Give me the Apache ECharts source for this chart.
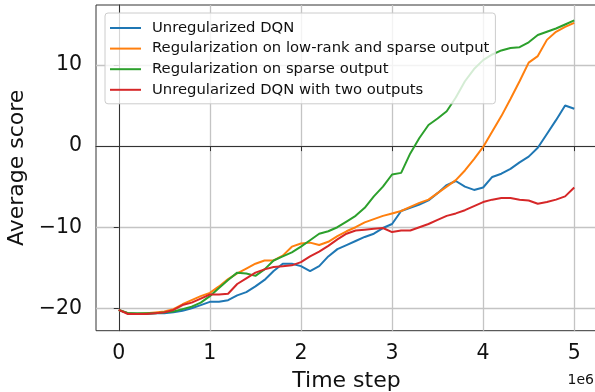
<!DOCTYPE html>
<html>
<head>
<meta charset="utf-8">
<script src="https://cdn.jsdelivr.net/npm/echarts@6/dist/echarts.min.js"></script>
<style>
html,body{margin:0;padding:0;background:#fff;}
#chart{width:595px;height:392px;}
</style>
</head>
<body>
<div id="chart"></div>
<script>
// Time steps in millions (axis carries the 1e6 offset)
var timeStepsM = [0.0,0.1,0.2,0.3,0.4,0.5,0.6,0.7,0.8,0.9,1.0,1.1,1.2,1.3,1.4,1.5,1.6,1.7,1.8,1.9,2.0,2.1,2.2,2.3,2.4,2.5,2.6,2.7,2.8,2.9,3.0,3.1,3.2,3.3,3.4,3.5,3.6,3.7,3.8,3.9,4.0,4.1,4.2,4.3,4.4,4.5,4.6,4.7,4.8,4.9,5.0];

var seriesNames = [
  'Unregularized DQN',
  'Regularization on low-rank and sparse output',
  'Regularization on sparse output',
  'Unregularized DQN with two outputs'
];
var seriesColors = ['#1f77b4','#ff7f0e','#2ca02c','#d62728'];

var unregularized = [-20.2,-20.6,-20.7,-20.7,-20.6,-20.6,-20.5,-20.3,-20.0,-19.6,-19.2,-19.2,-19.0,-18.4,-18.0,-17.3,-16.5,-15.4,-14.5,-14.5,-14.8,-15.4,-14.8,-13.6,-12.7,-12.2,-11.7,-11.2,-10.8,-10.1,-9.6,-8.0,-7.6,-7.2,-6.7,-5.8,-4.8,-4.3,-5.0,-5.4,-5.1,-3.8,-3.4,-2.8,-2.0,-1.3,-0.2,1.5,3.2,5.0,4.6];
var lowRankSparse = [-20.2,-20.6,-20.7,-20.6,-20.5,-20.4,-20.1,-19.5,-19.0,-18.5,-18.1,-17.3,-16.4,-15.7,-15.1,-14.5,-14.1,-14.1,-13.5,-12.4,-12.0,-11.9,-12.2,-11.8,-11.1,-10.5,-10.0,-9.4,-9.0,-8.6,-8.3,-8.0,-7.5,-7.0,-6.6,-5.8,-5.0,-4.2,-3.0,-1.6,-0.1,1.8,3.7,5.8,8.0,10.3,11.1,13.1,14.1,14.7,15.2];
var sparseOnly = [-20.2,-20.6,-20.6,-20.6,-20.6,-20.5,-20.4,-20.1,-19.8,-19.3,-18.5,-17.5,-16.5,-15.6,-15.7,-16.0,-15.2,-14.1,-13.6,-13.1,-12.4,-11.6,-10.8,-10.5,-10.0,-9.3,-8.6,-7.6,-6.2,-5.0,-3.5,-3.3,-0.9,1.0,2.6,3.4,4.3,6.0,8.0,9.5,10.6,11.3,11.8,12.1,12.2,12.8,13.7,14.1,14.5,15.0,15.5];
var twoOutputs = [-20.2,-20.7,-20.7,-20.7,-20.6,-20.5,-20.2,-19.6,-19.3,-18.8,-18.3,-18.3,-18.2,-17.0,-16.3,-15.6,-15.2,-14.9,-14.8,-14.7,-14.3,-13.6,-13.0,-12.3,-11.5,-10.8,-10.4,-10.3,-10.2,-10.1,-10.6,-10.4,-10.4,-10.0,-9.6,-9.1,-8.6,-8.3,-7.9,-7.4,-6.9,-6.6,-6.4,-6.4,-6.6,-6.7,-7.1,-6.9,-6.6,-6.2,-5.1];

var xTicksM = [0,1,2,3,4,5];
var yTicks = [-20,-10,0,10];

var allValues = [unregularized, lowRankSparse, sparseOnly, twoOutputs];
var FONT = 'DejaVu Sans';

function pairs(vals){
  return timeStepsM.map(function(t,i){ return [t*1e6, vals[i]]; });
}

var series = allValues.map(function(vals, k){
  return {
    name: seriesNames[k],
    type: 'line',
    data: pairs(vals),
    showSymbol: false,
    symbol: 'none',
    lineStyle: {color: seriesColors[k], width: 2},
    itemStyle: {color: seriesColors[k]},
    emphasis: {disabled: true},
    z: 2 + k
  };
});

var xTickValues = xTicksM.map(function(v){return v*1e6;});

var chart = echarts.init(document.getElementById('chart'), null, {renderer: 'canvas'});
chart.setOption({
  animation: false,
  backgroundColor: '#ffffff',
  grid: {
    left: 96, top: 5, width: 501, height: 325.7,
    containLabel: false,
    outerBoundsMode: 'none',
    show: true, borderColor: '#333', borderWidth: 1, backgroundColor: 'transparent'
  },
  legend: {
    data: seriesNames,
    orient: 'vertical',
    left: 105, top: 13,
    icon: 'rect',
    itemWidth: 31, itemHeight: 2,
    itemGap: 4.6,
    padding: [7, 6, 6, 5],
    backgroundColor: 'rgba(255,255,255,0.8)',
    borderColor: '#cccccc', borderWidth: 1, borderRadius: 3,
    textStyle: {fontFamily: FONT, fontSize: 14.8, color: '#111', lineHeight: 16, padding: [0,0,0,6]},
    z: 10
  },
  xAxis: {
    type: 'value',
    min: -250000, max: 5250000,
    splitNumber: 5,
    axisLine: {show: true, lineStyle: {color: '#333', width: 1}},
    axisTick: {show: true, length: 5, lineStyle: {color: '#333', width: 1}, customValues: xTickValues},
    axisLabel: {
      show: true, margin: 12,
      customValues: xTickValues,
      fontFamily: FONT, fontSize: 20.5, color: '#111',
      formatter: function(v){ return String(Math.round(v/1e5)/10); }
    },
    splitLine: {show: true, lineStyle: {color: '#c4c4c4', width: 1.3}},
    name: 'Time step', nameLocation: 'middle', nameGap: 40,
    nameTextStyle: {fontFamily: FONT, fontSize: 22, color: '#111'}
  },
  yAxis: {
    type: 'value',
    min: -22.76, max: 17.4,
    splitNumber: 4,
    axisLine: {show: true, lineStyle: {color: '#333', width: 1}},
    axisTick: {show: true, length: 5, lineStyle: {color: '#333', width: 1}, customValues: yTicks},
    axisLabel: {
      show: true, margin: 14,
      customValues: yTicks,
      fontFamily: FONT, fontSize: 20.5, color: '#111',
      formatter: function(v){ return v < 0 ? '\u2212' + Math.abs(v) : String(v); }
    },
    splitLine: {show: true, lineStyle: {color: '#c4c4c4', width: 1.3}},
    name: 'Average score', nameLocation: 'middle', nameGap: 67,
    nameTextStyle: {fontFamily: FONT, fontSize: 22, color: '#111'}
  },
  graphic: [{
    type: 'text', right: 1, top: 373,
    style: {text: '1e6', font: '14px "DejaVu Sans"', fill: '#111'}
  }],
  series: series
});
</script>
</body>
</html>
